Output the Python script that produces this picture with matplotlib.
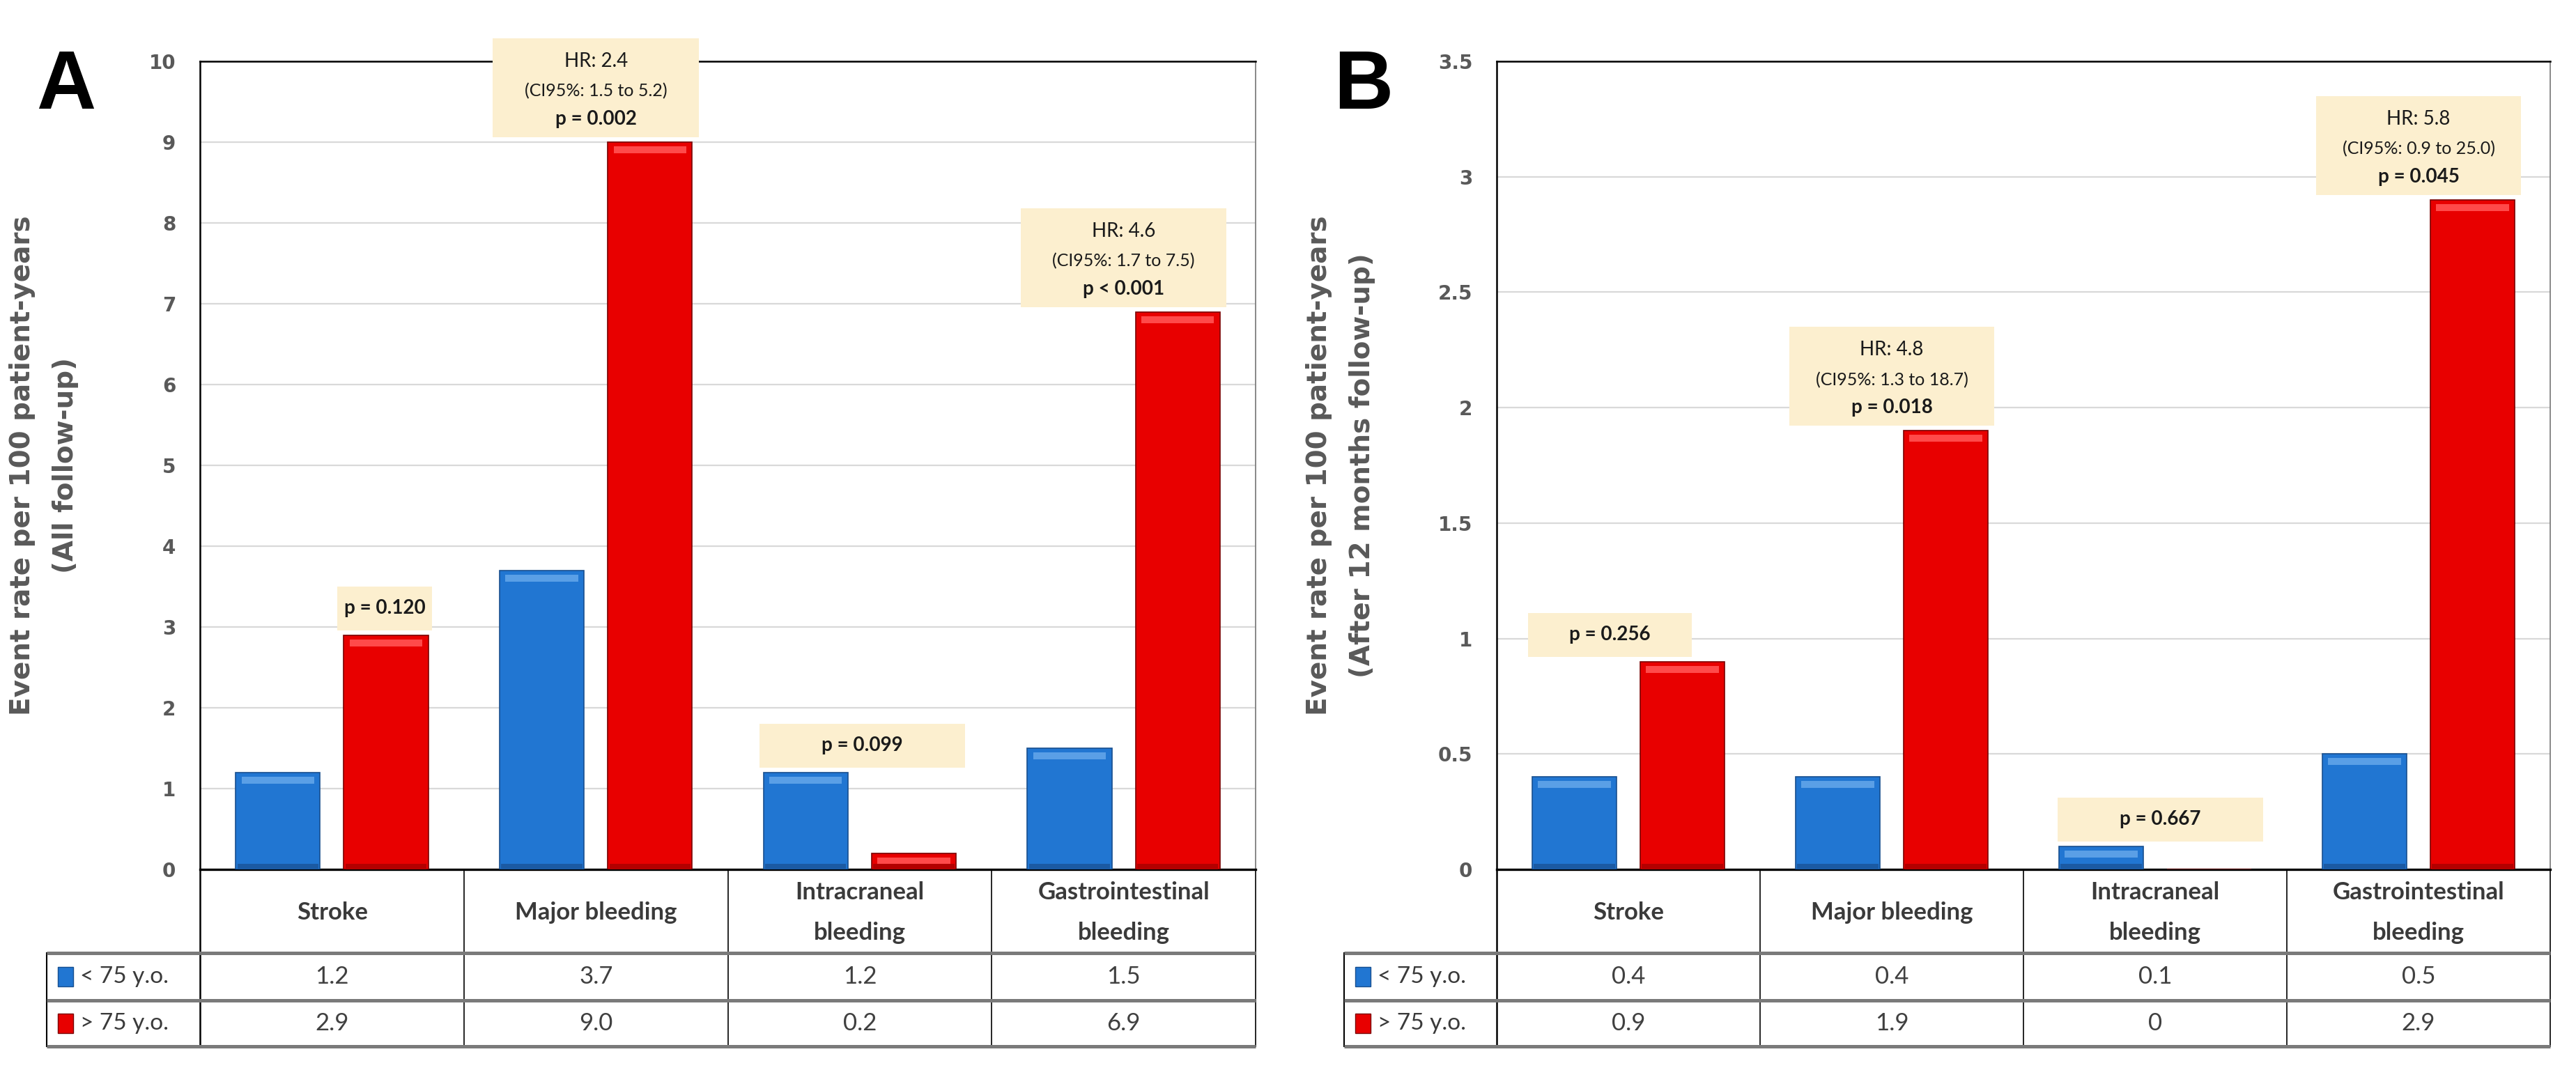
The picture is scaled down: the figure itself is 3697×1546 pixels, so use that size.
import numpy as np
import matplotlib
matplotlib.use("Agg")
import matplotlib.pyplot as plt
from matplotlib import rcParams
from matplotlib.patches import Rectangle

rcParams["font.family"] = ["Lato", "DejaVu Sans"]

# data
categories = ["Stroke", "Major bleeding", "Intracraneal\nbleeding", "Gastrointestinal\nbleeding"]
seriesLabels = ["< 75 y.o.", "> 75 y.o."]

youngA = [1.2, 3.7, 1.2, 1.5]
oldA = [2.9, 9.0, 0.2, 6.9]
youngTextA = ["1.2", "3.7", "1.2", "1.5"]
oldTextA = ["2.9", "9.0", "0.2", "6.9"]
hrA = ["", "HR: 2.4", "", "HR: 4.6"]
ciA = ["", "(CI95%: 1.5 to 5.2)", "", "(CI95%: 1.7 to 7.5)"]
pA = ["p = 0.120", "p = 0.002", "p = 0.099", "p < 0.001"]

youngB = [0.4, 0.4, 0.1, 0.5]
oldB = [0.9, 1.9, 0.0, 2.9]
youngTextB = ["0.4", "0.4", "0.1", "0.5"]
oldTextB = ["0.9", "1.9", "0", "2.9"]
hrB = ["", "HR: 4.8", "", "HR: 5.8"]
ciB = ["", "(CI95%: 1.3 to 18.7)", "", "(CI95%: 0.9 to 25.0)"]
pB = ["p = 0.256", "p = 0.018", "p = 0.667", "p = 0.045"]

yLabelA = "Event rate per 100 patient-years\n(All follow-up)"
yLabelB = "Event rate per 100 patient-years\n(After 12 months follow-up)"

blue, blueEdge, blueLight, blueDark = "#2176d2", "#184f8f", "#5a9fe6", "#1b5aa3"
red, redEdge, redLight, redDark = "#e80000", "#7a0000", "#ff4a4a", "#b30000"
boxColor = "#fcefcf"
greyText = "#595959"

figW, figH = 3697, 1546
axPxH = 1160

fig = plt.figure(figsize=(figW / 100, figH / 100), dpi=100)


def pxRect(left, top, right, bottom):
    return [left / figW, (figH - bottom) / figH, (right - left) / figW, (bottom - top) / figH]


def drawPanel(ax, axT, young, old, youngText, oldText, hr, ci, p, yMax, yStep,
              yLabel, boxOffsets, boxWidths, legW):
    x = np.arange(len(categories))
    barW = 0.32
    off = 0.205
    u = yMax / axPxH  # data units per pixel

    for vals, xs, face, edge, light, dark in [(young, x - off, blue, blueEdge, blueLight, blueDark),
                                               (old, x + off, red, redEdge, redLight, redDark)]:
        vals = np.array(vals)
        ax.bar(xs, vals, barW, color=face, edgecolor=edge, linewidth=1.2, zorder=3)
        has = vals > 0
        ax.bar(xs[has], 10 * u, barW * 0.86, bottom=vals[has] - 16 * u, color=light, linewidth=0, zorder=4)
        ax.bar(xs[has], np.minimum(vals[has], 8 * u), barW * 0.96, color=dark, linewidth=0, zorder=4)

    ax.set_xlim(-0.5, 3.5)
    ax.set_ylim(0, yMax)
    ticks = np.arange(0, yMax + yStep / 2, yStep)
    ax.set_yticks(ticks)
    ax.set_yticklabels(["{:g}".format(t) for t in ticks], fontweight="bold", color=greyText,
                       fontsize=20, family="DejaVu Sans")
    ax.set_xticks([])
    ax.tick_params(axis="y", length=0, pad=25)
    ax.yaxis.grid(True, color="#d9d9d9", linewidth=1.6)
    ax.set_axisbelow(True)
    ax.spines["left"].set_linewidth(1.8)
    ax.spines["top"].set_linewidth(1.8)
    ax.spines["bottom"].set_linewidth(2.4)
    ax.spines["right"].set_linewidth(1.3)
    ax.spines["right"].set_color("#7f7f7f")
    ax.set_ylabel(yLabel, fontsize=28, fontweight="bold", color=greyText, family="DejaVu Sans",
                  linespacing=1.8)
    ax.yaxis.set_label_coords(-0.115, 0.5)

    # annotation boxes
    for i in range(len(categories)):
        bottom = max(young[i], old[i]) + 7 * u
        h = (142 if hr[i] else 63) * u
        cx = i + boxOffsets[i]
        w = boxWidths[i]
        ax.add_patch(Rectangle((cx - w / 2, bottom), w, h, facecolor=boxColor, edgecolor="none",
                               zorder=6, clip_on=False))
        if hr[i]:
            ax.text(cx, bottom + h * (1 - 33 / 142), hr[i], fontsize=20, ha="center", va="center",
                    color="#1a1a1a", zorder=7)
            ax.text(cx, bottom + h * (1 - 76 / 142), ci[i], fontsize=18, ha="center", va="center",
                    color="#1a1a1a", zorder=7)
            ax.text(cx, bottom + h * (1 - 116 / 142), p[i], fontsize=20, fontweight="bold",
                    ha="center", va="center", color="#1a1a1a", zorder=7)
        else:
            ax.text(cx, bottom + h / 2, p[i], fontsize=20, fontweight="bold", ha="center",
                    va="center", color="#1a1a1a", zorder=7)

    # data table below the chart
    left = -0.5 - legW
    axT.set_xlim(left, 3.5)
    axT.set_ylim(254, 0)
    axT.axis("off")
    for b in [0.5, 1.5, 2.5, 3.5]:
        axT.plot([b, b], [0, 254], color="black", linewidth=1.2, clip_on=False)
    axT.plot([-0.5, -0.5], [0, 254], color="black", linewidth=1.8, clip_on=False)
    axT.plot([left, left], [120, 254], color="black", linewidth=1.5, clip_on=False)
    for yy in [120, 188, 254]:
        axT.plot([left, 3.5], [yy, yy], color="#7a7a7a", linewidth=3.6, clip_on=False,
                 solid_capstyle="butt")
    for i, cat in enumerate(categories):
        axT.text(i, 62, cat, ha="center", va="center", fontsize=25, fontweight="bold",
                 color="#3a3a3a", linespacing=2.0)
        axT.text(i, 154, youngText[i], ha="center", va="center", fontsize=25, color="#404040")
        axT.text(i, 221, oldText[i], ha="center", va="center", fontsize=25, color="#404040")
    for yc, face, edge, lab in [(154, blue, blueEdge, seriesLabels[0]),
                                (221, red, redEdge, seriesLabels[1])]:
        axT.add_patch(Rectangle((left + 16 / 378, yc - 14), 22 / 378, 28, facecolor=face,
                                edgecolor=edge, linewidth=1, clip_on=False))
        axT.text(left + 48 / 378, yc, lab, ha="left", va="center", fontsize=24, color="#3a3a3a")


axA = fig.add_axes(pxRect(287, 88, 1802, 1248))
tabA = fig.add_axes(pxRect(67, 1248, 1802, 1502))
axB = fig.add_axes(pxRect(2148, 88, 3660, 1248))
tabB = fig.add_axes(pxRect(1929, 1248, 3660, 1502))

drawPanel(axA, tabA, youngA, oldA, youngTextA, oldTextA, hrA, ciA, pA, 10, 1, yLabelA,
          [0.2, 0.0, 0.01, 0.0], [0.36, 0.78, 0.78, 0.78], 220 / 378)
drawPanel(axB, tabB, youngB, oldB, youngTextB, oldTextB, hrB, ciB, pB, 3.5, 0.5, yLabelB,
          [-0.07, 0.0, 0.02, 0.0], [0.62, 0.78, 0.78, 0.78], 219 / 378)

fig.text(95 / figW, 1 - 125 / figH, "A", fontsize=85, fontweight="bold", family="Liberation Sans",
         ha="center", va="center")
fig.text(1957 / figW, 1 - 125 / figH, "B", fontsize=85, fontweight="bold", family="Liberation Sans",
         ha="center", va="center")

fig.savefig("out.png", dpi=100)
